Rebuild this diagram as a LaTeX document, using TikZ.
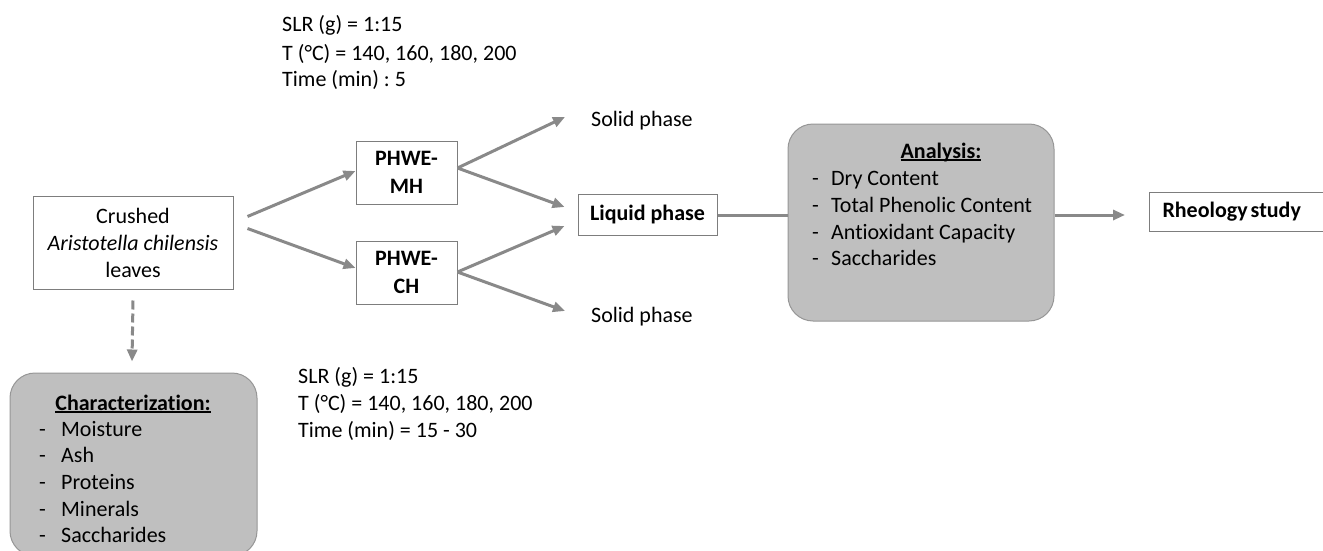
\documentclass[tikz,border=0pt]{standalone}
\usepackage{fontspec}
\setmainfont{Carlito}[Ligatures=NoCommon]
\usetikzlibrary{arrows.meta,calc}
\definecolor{arrgray}{RGB}{137,137,137}
\definecolor{boxline}{RGB}{125,125,125}
\definecolor{rboxline}{RGB}{150,150,150}
\definecolor{fillgray}{RGB}{191,191,191}
\newcommand\ulx[1]{\setbox0\hbox{#1}\rlap{\rule[-2.6pt]{\wd0}{1.3pt}}\box0}
\frenchspacing
\begin{document}
\begin{tikzpicture}[x=1pt,y=-1pt,
  every node/.style={font=\fontsize{22}{27}\selectfont, text=black},
  plainbox/.style={draw=boxline, line width=1pt, fill=white, inner sep=0pt, align=center},
  boldbox/.style={plainbox, font=\fontsize{22}{28}\selectfont\bfseries},
  roundbox/.style={draw=rboxline, line width=1pt, fill=fillgray, rounded corners=25pt, inner sep=0pt},
  arr/.style={draw=arrgray, line width=3pt, -{Triangle[length=12pt,width=10pt]}},
  ln/.style={draw=arrgray, line width=3pt},
  txt/.style={anchor=base west, inner sep=0pt},
  ttl/.style={anchor=base, inner sep=0pt, font=\fontsize{22}{27}\selectfont\bfseries},
]
\useasboundingbox (0,0) rectangle (1323,551);

% top and bottom parameter texts
\node[txt] (pa1) at (282,32) {SLR (g) = 1:15};
\node[txt] (pa2) at (282,60) {T (°C) = 140, 160, 180, 200};
\node[txt] (pa3) at (282,87) {Time (min) : 5};
\node[txt] (pb1) at (298,383) {SLR (g) = 1:15};
\node[txt] (pb2) at (298,410) {T (°C) = 140, 160, 180, 200};
\node[txt] (pb3) at (298,437) {Time (min) = 15 - 30};

% main boxes
\node[plainbox, minimum width=200pt, minimum height=93pt] (crushed) at (133,242.5)
  {Crushed\\\textit{Aristotella chilensis}\\leaves};
\node[boldbox, minimum width=101pt, minimum height=63pt] (mh) at (406.5,172.5) {PHWE-\\MH};
\node[boldbox, minimum width=101pt, minimum height=63pt] (ch) at (406.5,272.5) {PHWE-\\CH};
\node[boldbox, minimum width=139pt, minimum height=41pt] (liquid) at (647.5,214.5) {Liquid phase};
\node[txt] (solid1) at (591,126) {Solid phase};
\node[txt] (solid2) at (591,322) {Solid phase};

% analysis box
\node[roundbox, minimum width=266pt, minimum height=197pt] (analysis) at (921,222.5) {};
\node[ttl] (antitle) at (941,158) {\ulx{Analysis:}};
\node[txt] (an1) at (812,185) {\makebox[19pt][l]{-}Dry Content};
\node[txt] (an2) at (812,212) {\makebox[19pt][l]{-}Total Phenolic Content};
\node[txt] (an3) at (812,239) {\makebox[19pt][l]{-}Antioxidant Capacity};
\node[txt] (an4) at (812,265) {\makebox[19pt][l]{-}Saccharides};

% rheology
\node[plainbox, boldbox, anchor=west, minimum height=39pt, text width=165pt, align=left, inner xsep=13pt] (rheo) at (1149,211.5) {Rheology\kern3pt study};

% characterization box
\node[roundbox, minimum width=247pt, minimum height=183pt] (charac) at (133.5,464.5) {};
\node[ttl] (chtitle) at (133,410) {\ulx{Characterization:}};
\node[txt] (ch1) at (39,436) {\makebox[22pt][l]{-}Moisture};
\node[txt] (ch2) at (39,462) {\makebox[22pt][l]{-}Ash};
\node[txt] (ch3) at (39,489) {\makebox[22pt][l]{-}Proteins};
\node[txt] (ch4) at (39,516) {\makebox[22pt][l]{-}Minerals};
\node[txt] (ch5) at (39,542) {\makebox[22pt][l]{-}Saccharides};

% connectors
\draw[arr] ($(crushed.east)+(14,-26)$) -- ($(mh.west)+(0,-1.5)$);
\draw[arr] ($(crushed.east)+(14,-14)$) -- ($(ch.west)+(0,-4.5)$);
\draw[arr] ($(mh.east)+(0,-4.5)$) -- ($(solid1.base west)+(-26,-9)$);
\draw[arr] ($(mh.east)+(0,-4.5)$) -- ($(liquid.west)+(-13,-7.5)$);
\draw[arr] ($(ch.east)+(0,-0.5)$) -- ($(liquid.west)+(-13,11.5)$);
\draw[arr] ($(ch.east)+(0,-0.5)$) -- ($(solid2.base west)+(-26,-11)$);
\coordinate (lq) at ($(liquid.east)+(0,0.5)$);
\draw[ln] (lq) -- (analysis.west |- lq);
\coordinate (rh) at ($(rheo.west)+(-24,3.5)$);
\draw[arr] (analysis.east |- rh) -- (rh);
\draw[arr, dash pattern=on 9pt off 4pt] ($(crushed.south)+(0,11)$) -- ($(charac.north)+(-1.5,-11)$);
\end{tikzpicture}
\end{document}
